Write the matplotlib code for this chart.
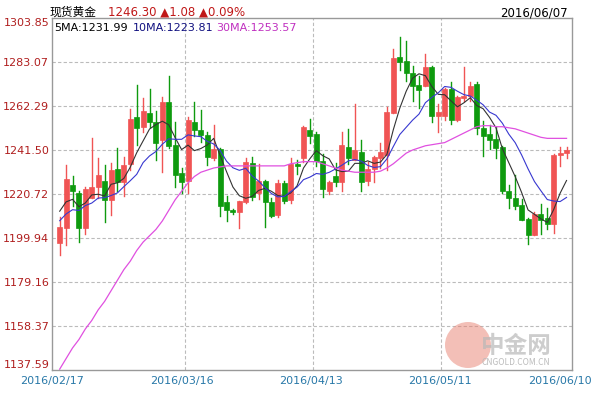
import matplotlib
matplotlib.use("Agg")
import matplotlib.pyplot as plt
from matplotlib.patches import Rectangle, Ellipse
import numpy as np

plt.rcParams['font.family'] = ['Noto Sans CJK SC', 'DejaVu Sans']

# OHLC per trading day, 2016/02/17 .. 2016/06/07
opens = [1197.5, 1204.5, 1225, 1221, 1204.5, 1219, 1224, 1227, 1218, 1232.5,
         1226.5, 1235, 1257, 1252.5, 1259, 1254.5, 1246, 1264, 1244, 1230.5,
         1227, 1254.5, 1251, 1248.5, 1237.5, 1242, 1217, 1213, 1212, 1217,
         1235.5, 1221, 1227, 1217, 1211, 1226, 1218, 1235, 1237.5, 1251,
         1249, 1236.5, 1222, 1229, 1226.5, 1243, 1237, 1240.5, 1227, 1232.5,
         1237.5, 1239, 1259, 1285.5, 1283.5, 1278, 1272, 1271.5, 1280.5, 1257.5,
         1257.5, 1270.5, 1255.5, 1266, 1267, 1272.5, 1252, 1249, 1246.5, 1243,
         1222, 1219, 1215.5, 1209, 1201.5, 1211.5, 1209.5, 1206.5, 1239, 1240]
closes = [1205, 1228, 1222, 1204.5, 1223, 1224, 1229.5, 1218, 1232, 1226.5,
          1234.5, 1256, 1252, 1260, 1254.5, 1245, 1264, 1243.5, 1229.5, 1226.5,
          1255.5, 1251, 1248.5, 1238, 1242, 1215, 1213, 1212, 1217.5, 1236,
          1219.5, 1227, 1217, 1210.5, 1226, 1217.5, 1235, 1234, 1252.5, 1248,
          1236.5, 1223, 1226.5, 1226.5, 1244, 1237.5, 1241.5, 1226.5, 1232.5, 1238,
          1240.5, 1259.5, 1285, 1283, 1278, 1271.5, 1270, 1280.5, 1257.5, 1259.5,
          1270.5, 1255.5, 1266.5, 1267, 1271.5, 1252, 1248, 1246, 1242.5, 1222,
          1219, 1215, 1208.5, 1201.5, 1211.5, 1208.5, 1206.5, 1239, 1240, 1241.5]
highs = [1210, 1234.5, 1229, 1222, 1224, 1247, 1237.5, 1234.5, 1235.5, 1242.5,
         1238, 1261, 1272, 1266, 1270.5, 1260, 1266.5, 1276.5, 1254.5, 1233,
         1257, 1264, 1260.5, 1250, 1253.5, 1242.5, 1220, 1213.5, 1217.5, 1237.5,
         1238, 1235, 1227.5, 1219, 1227.5, 1227, 1237.5, 1237, 1253, 1256,
         1250, 1239.5, 1227, 1235.5, 1250, 1251.5, 1263, 1246, 1236, 1238.5,
         1245, 1262, 1289, 1295, 1293, 1281, 1276.5, 1287, 1281, 1263,
         1271, 1273.5, 1267, 1280.5, 1273.5, 1273.5, 1255, 1253.5, 1252.5, 1243.5,
         1225, 1229.5, 1218.5, 1209.5, 1212, 1216, 1214, 1239.5, 1243, 1243]
lows = [1192, 1196.5, 1215, 1198, 1202, 1219, 1219, 1207.5, 1211, 1222,
        1220, 1232, 1244, 1250, 1252.5, 1237, 1231, 1242.5, 1224, 1221,
        1221, 1248, 1245.5, 1234.5, 1237, 1210.5, 1208, 1211.5, 1204.5, 1216.5,
        1218, 1218.5, 1205, 1210, 1210, 1216.5, 1216.5, 1230, 1236, 1245,
        1234, 1219.5, 1220.5, 1224.5, 1222, 1235, 1237, 1222, 1225, 1226.5,
        1233, 1232, 1259, 1279.5, 1274, 1264.5, 1261.5, 1271.5, 1254.5, 1250,
        1255.5, 1254, 1255, 1264.5, 1264.5, 1249, 1238.5, 1242, 1237.5, 1221,
        1214, 1213.5, 1208.5, 1197, 1201.5, 1202, 1204, 1202.5, 1234, 1237.5]
# closes before the first shown day, needed for the short moving averages
prior_closes = [1196, 1202, 1208, 1200, 1212, 1206, 1216, 1222, 1214]
ma30 = [1138, 1143, 1148, 1152, 1157, 1161, 1166, 1170, 1175, 1180,
        1185, 1189, 1194, 1198, 1201, 1204, 1208, 1213, 1218, 1222,
        1226, 1229, 1231, 1232, 1233, 1233.5, 1234, 1234, 1234, 1234,
        1234, 1234, 1234, 1234, 1234, 1234, 1235, 1235.5, 1236, 1236,
        1236, 1235, 1234, 1233, 1232, 1231.5, 1231, 1231, 1231, 1231,
        1231.5, 1233, 1235, 1237.5, 1240, 1241.5, 1242.5, 1243.5, 1244, 1244.5,
        1245, 1246.5, 1248, 1249.5, 1251, 1252.5, 1253, 1253, 1252.5, 1252.5,
        1252, 1251.5, 1250.5, 1249.5, 1248.5, 1247.5, 1247, 1247, 1247, 1247]

yticks = [1137.59, 1158.37, 1179.16, 1199.94, 1220.72, 1241.50, 1262.29, 1283.07, 1303.85]
date_labels = ["2016/02/17", "2016/03/16", "2016/04/13", "2016/05/11", "2016/06/10"]
date_pos = [-1.2, 19.0, 39.2, 59.2, 78.0]
vgrid = [19.5, 39.5, 59.5]

UP = "#F05454"
DOWN = "#0E9A0E"
TICK_RED = "#B01E1E"
DATE_BLUE = "#2878A8"

fig = plt.figure(figsize=(6, 4), dpi=100)
ax = fig.add_axes([52 / 600, 30 / 400, 520 / 600, 352 / 400])

n = len(closes)
x = np.arange(n)
allc = np.array(prior_closes + closes, dtype=float)
ma5 = np.convolve(allc, np.ones(5) / 5, mode="valid")[-n:]
ma10 = np.convolve(allc, np.ones(10) / 10, mode="valid")[-n:]

for y in yticks[1:-1]:
    ax.axhline(y, color="#BBBBBB", lw=0.8, ls=(0, (3, 2)), zorder=0)
for v in vgrid:
    ax.axvline(v, color="#BBBBBB", lw=0.8, ls=(0, (3, 2)), zorder=0)

w = 0.78
for i in range(n):
    o, c, h, l = opens[i], closes[i], highs[i], lows[i]
    col = UP if c >= o else DOWN
    ax.plot([i, i], [l, h], color=col, lw=1.0, zorder=2)
    bottom = min(o, c)
    height = max(abs(c - o), 0.4)
    ax.add_patch(Rectangle((i - w / 2, bottom), w, height, facecolor=col,
                           edgecolor=col, lw=0.5, zorder=3))

ax.plot(x, ma5, color="#333333", lw=0.8, zorder=4)
ax.plot(x, ma10, color="#3838D0", lw=0.8, zorder=4)
ax.plot(x, ma30, color="#E050E0", lw=0.9, zorder=4)

ax.set_xlim(-0.15, 79.85)
ax.set_ylim(yticks[0], yticks[-1])
ax.set_yticks(yticks)
ax.set_yticklabels([f"{v:.2f}" for v in yticks], color=TICK_RED, fontsize=8,
                   family="DejaVu Sans")
labs = ax.get_yticklabels()
labs[0].set_va("bottom")
labs[-1].set_va("top")
ax.tick_params(axis="y", length=0, pad=2)
ax.set_xticks(date_pos)
ax.set_xticklabels(date_labels, color=DATE_BLUE, fontsize=8, family="DejaVu Sans")
ax.tick_params(axis="x", length=0, pad=4)
for s in ax.spines.values():
    s.set_color("#999999")
    s.set_linewidth(1.0)

# watermark
fig.patches.append(Ellipse((468 / 600, 1 - 345 / 400), 46 / 600, 46 / 400,
                           transform=fig.transFigure, facecolor="#E88070",
                           alpha=0.5, edgecolor="none", zorder=1))
fig.text(0.86, 0.135, "中金网", fontsize=17, color="#B8B8B8", alpha=0.7,
         ha="center", va="center", weight="bold")
fig.text(0.86, 0.088, "CNGOLD.COM.CN", fontsize=6, color="#BBBBBB", ha="center")

# header
fig.text(50 / 600, 0.985, "现货黄金", fontsize=8.5, color="black", va="top")
fig.text(108 / 600, 0.985, "1246.30 ▲1.08 ▲0.09%", fontsize=8.5, color="#C01818",
         va="top", family=["DejaVu Sans"])
fig.text(568 / 600, 0.985, "2016/06/07", fontsize=8.5, color="black", va="top",
         ha="right", family="DejaVu Sans")
ax.text(0.005, 0.985, "5MA:1231.99", transform=ax.transAxes, fontsize=8,
        color="black", va="top", family="DejaVu Sans")
ax.text(0.155, 0.985, "10MA:1223.81", transform=ax.transAxes, fontsize=8,
        color="#101080", va="top", family="DejaVu Sans")
ax.text(0.315, 0.985, "30MA:1253.57", transform=ax.transAxes, fontsize=8,
        color="#C030C0", va="top", family="DejaVu Sans")

fig.savefig("out.png", dpi=100)
